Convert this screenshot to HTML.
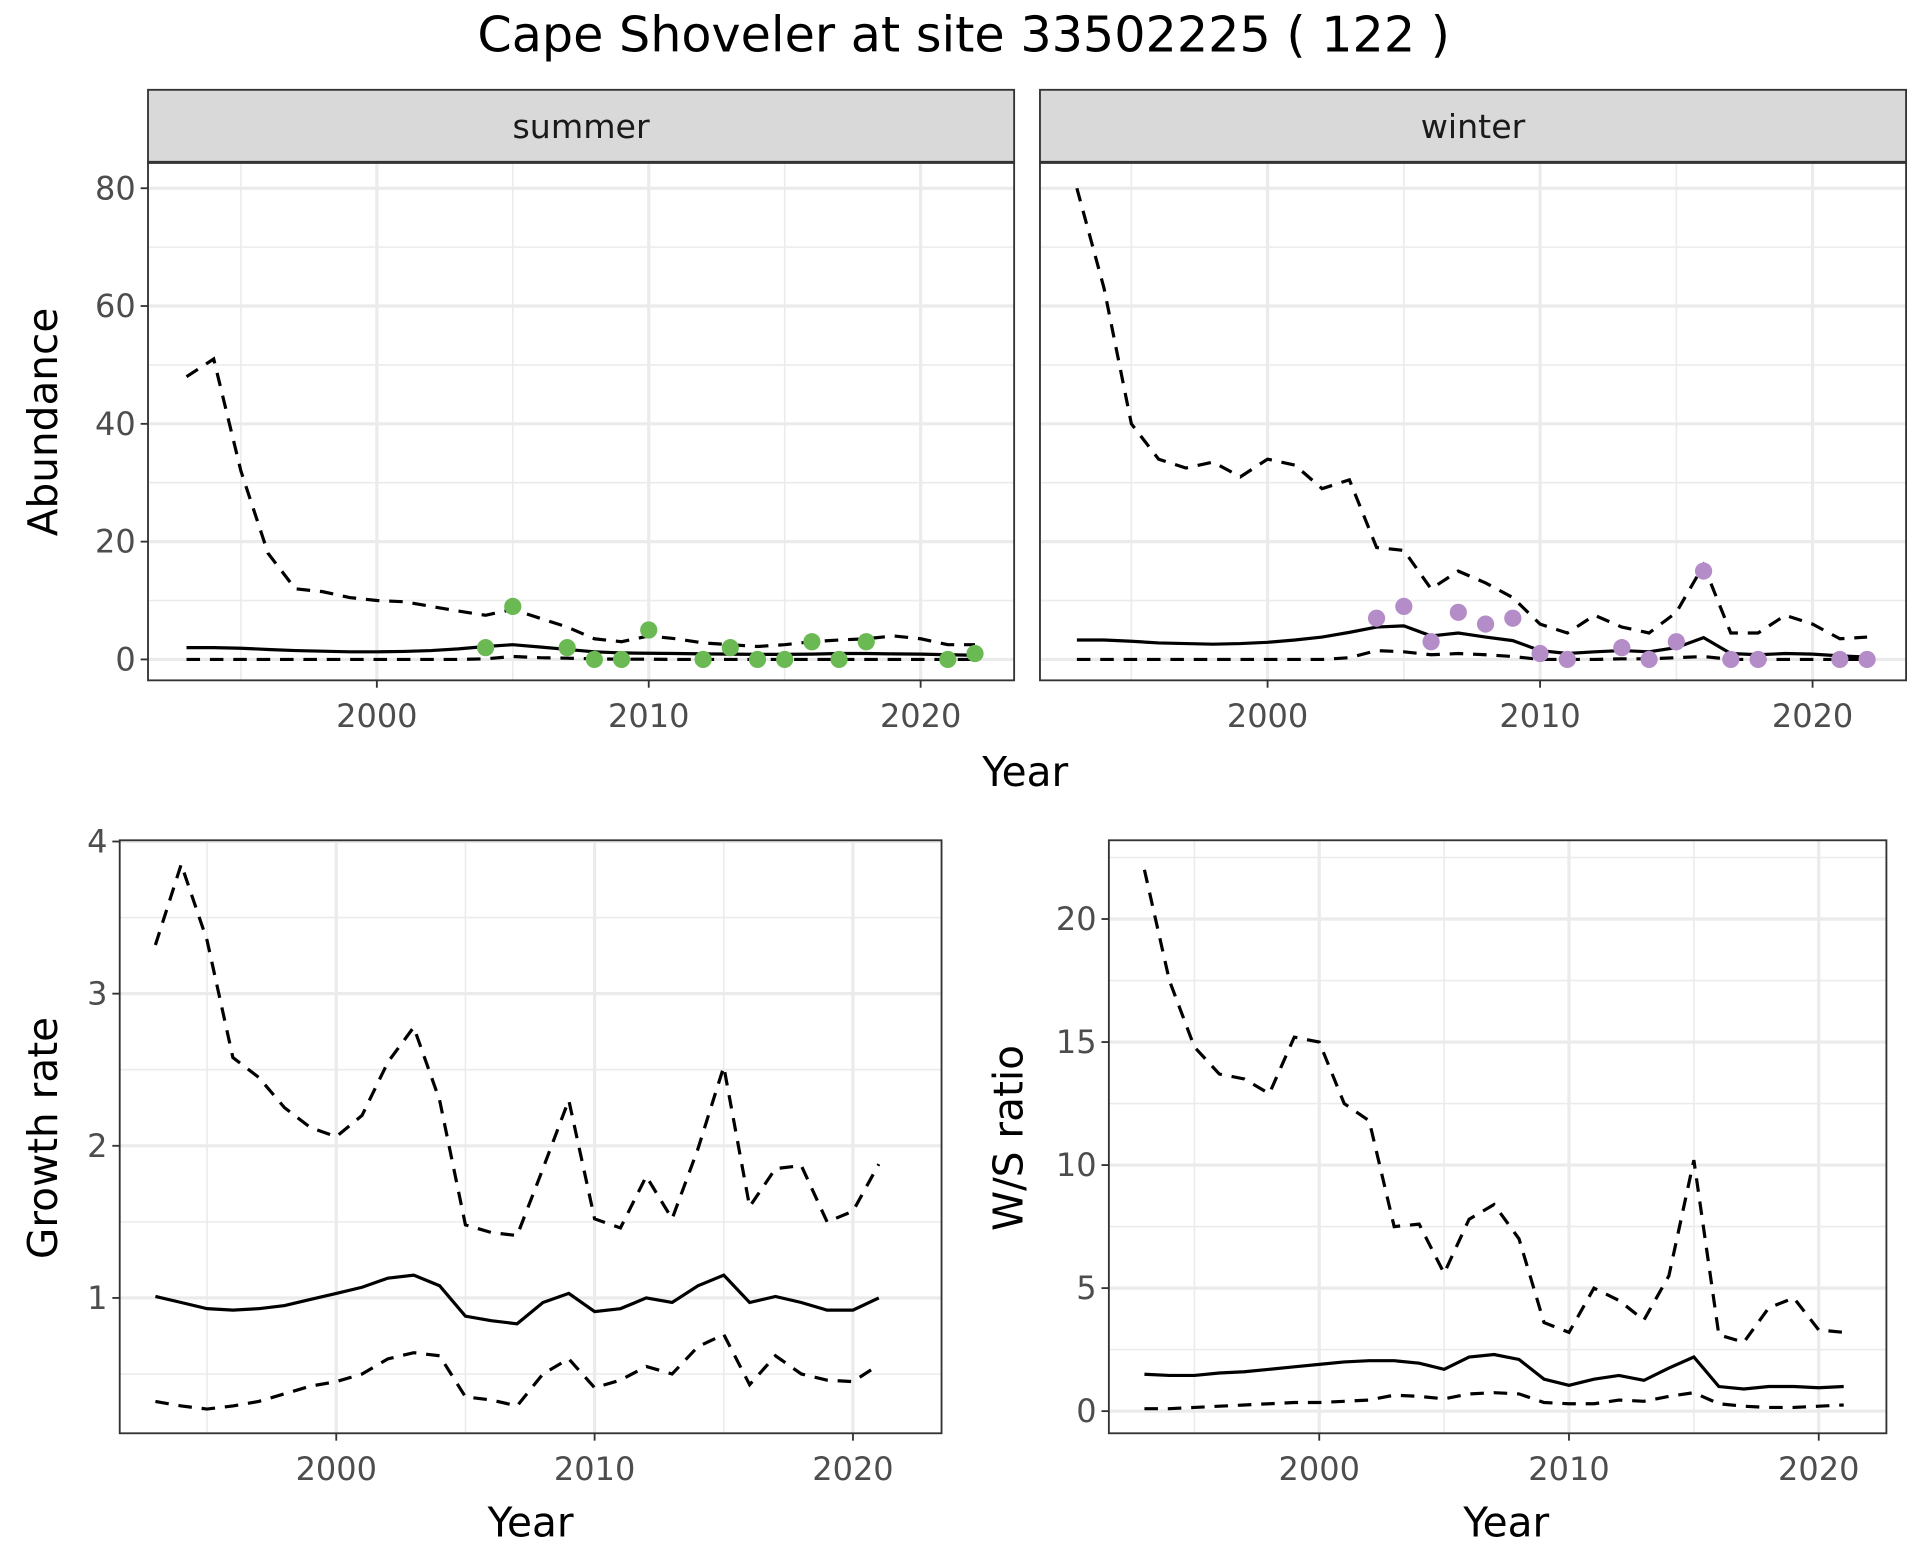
<!DOCTYPE html>
<html><head><meta charset="utf-8"><style>
html,body{margin:0;padding:0;background:#fff;}
svg{display:block;font-family:"DejaVu Sans","Liberation Sans",sans-serif;}
</style></head><body>
<svg id="chart" width="1920" height="1560" viewBox="0 0 1560 1268" xmlns="http://www.w3.org/2000/svg">
<rect width="1560" height="1268" fill="#fff"/>
<text x="783" y="42" font-size="40" text-anchor="middle" fill="#000">Cape Shoveler at site 33502225 ( 122 )</text>
<g id="g"></g>
</svg>
<script>
const years93_22 = [1993,1994,1995,1996,1997,1998,1999,2000,2001,2002,2003,2004,2005,2006,2007,2008,2009,2010,2011,2012,2013,2014,2015,2016,2017,2018,2019,2020,2021,2022];
const years93_21 = years93_22.slice(0,29);
const summerMean = [2,2,1.9,1.7,1.5,1.4,1.3,1.3,1.35,1.5,1.8,2.2,2.5,2.1,1.7,1.3,1.1,1.05,1,0.95,0.9,0.85,0.85,0.9,1,1,0.95,0.9,0.8,0.7];
const summerUpper = [48,51,32,18,12,11.5,10.5,10,9.8,9,8.2,7.5,8.5,7,5.5,3.5,3,4,3.5,2.8,2.5,2.2,2.5,3,3.3,3.5,4,3.5,2.5,2.5];
const summerLower = [0,0,0,0,0,0,0,0,0,0,0,0.1,0.5,0.3,0.2,0.1,0.05,0.05,0,0,0,0,0,0,0,0,0,0,0,0];
const summerObsYears = [2004,2005,2007,2008,2009,2010,2012,2013,2014,2015,2016,2017,2018,2021,2022];
const summerObs = [2,9,2,0,0,5,0,2,0,0,3,0,3,0,1];
const winterMean = [3.3,3.3,3.1,2.8,2.7,2.6,2.7,2.9,3.3,3.8,4.6,5.5,5.7,4,4.5,3.8,3.2,1.5,1,1.3,1.5,1.3,2,3.7,1,0.8,1,0.9,0.6,0.4];
const winterUpper = [80,63,40,34,32.5,33.5,31,34,33,29,30.5,19,18.5,12,15,13,10.5,6,4.5,7.5,5.5,4.5,8,16,4.5,4.5,7.5,6,3.5,3.8];
const winterLower = [0,0,0,0,0,0,0,0,0,0,0.3,1.5,1.3,0.8,1,0.8,0.5,0,0,0,0.1,0.1,0.3,0.5,0,0,0,0,0,0];
const winterObsYears = [2004,2005,2006,2007,2008,2009,2010,2011,2013,2014,2015,2016,2017,2018,2021,2022];
const winterObs = [7,9,3,8,6,7,1,0,2,0,3,15,0,0,0,0];
const growthMean = [1.01,0.97,0.93,0.92,0.93,0.95,0.99,1.03,1.07,1.13,1.15,1.08,0.88,0.85,0.83,0.97,1.03,0.91,0.93,1.0,0.97,1.08,1.15,0.97,1.01,0.97,0.92,0.92,1.0];
const growthUpper = [3.32,3.85,3.35,2.58,2.45,2.25,2.12,2.06,2.2,2.55,2.78,2.3,1.48,1.43,1.41,1.85,2.3,1.52,1.46,1.8,1.52,1.98,2.52,1.6,1.85,1.87,1.5,1.57,1.88];
const growthLower = [0.32,0.29,0.27,0.29,0.32,0.37,0.42,0.45,0.5,0.6,0.64,0.62,0.35,0.33,0.29,0.5,0.6,0.41,0.46,0.55,0.5,0.68,0.76,0.43,0.62,0.5,0.46,0.45,0.56];
const ratioMean = [1.5,1.45,1.45,1.55,1.6,1.7,1.8,1.9,2.0,2.05,2.05,1.95,1.7,2.2,2.3,2.1,1.3,1.05,1.3,1.45,1.25,1.75,2.2,1.0,0.9,1.0,1.0,0.95,1.0];
const ratioUpper = [22,17.5,14.8,13.7,13.5,12.9,15.2,15,12.5,11.8,7.5,7.6,5.6,7.8,8.4,7,3.6,3.2,5,4.5,3.7,5.5,10.2,3.1,2.8,4.2,4.6,3.3,3.2];
const ratioLower = [0.1,0.1,0.15,0.2,0.25,0.3,0.35,0.35,0.4,0.45,0.65,0.6,0.5,0.7,0.75,0.7,0.35,0.3,0.3,0.45,0.4,0.6,0.75,0.3,0.2,0.15,0.15,0.2,0.25];
const abundTicks = [0,20,40,60,80];
const growthTicks = [1,2,3,4];
const ratioTicks = [0,5,10,15,20];
const yearTicks = [2000,2010,2020];

const NS="http://www.w3.org/2000/svg";
const G=document.getElementById('g');
function mk(tag,attrs,parent){const e=document.createElementNS(NS,tag);for(const k in attrs)e.setAttribute(k,attrs[k]);(parent||G).appendChild(e);return e;}
function lin(d0,d1,r0,r1){return v=>r0+(v-d0)*(r1-r0)/(d1-d0);}

function panel(o){
  const g=mk('g',{});
  
  
  const x=lin(2000,2020,o.x2000,o.x2020), y=lin(o.v0,o.v1,o.y0,o.y1);
  mk('rect',{x:o.L,y:o.T,width:o.R-o.L,height:o.B-o.T,fill:'#fff'},g);
  o.minorY.forEach(v=>{const yy=y(v);if(yy>o.T&&yy<o.B)mk('line',{x1:o.L,x2:o.R,y1:yy,y2:yy,stroke:'#ebebeb','stroke-width':1.3},g);});
  [1995,2005,2015].forEach(v=>mk('line',{x1:x(v),x2:x(v),y1:o.T,y2:o.B,stroke:'#ebebeb','stroke-width':1.3},g));
  o.ticks.forEach(v=>mk('line',{x1:o.L,x2:o.R,y1:y(v),y2:y(v),stroke:'#ebebeb','stroke-width':2.6},g));
  yearTicks.forEach(v=>mk('line',{x1:x(v),x2:x(v),y1:o.T,y2:o.B,stroke:'#ebebeb','stroke-width':2.6},g));
  function path(xs,vs,dash,nm){const p=mk('path',{d:xs.map((yr,i)=>(i?'L':'M')+x(yr).toFixed(1)+','+y(vs[i]).toFixed(1)).join(''),fill:'none',stroke:'#000','stroke-width':2.6,'stroke-dasharray':dash?'11,8':'none'},g);}
  path(o.years,o.upper,true,o.name+'-upper-line');
  path(o.years,o.lower,true,o.name+'-lower-line');
  path(o.years,o.mean,false,o.name+'-mean-line');
  if(o.obs){o.obsYears.forEach((yr,i)=>{const c=mk('circle',{cx:x(yr),cy:y(o.obs[i]),r:7,fill:o.color},g);});}
  mk('rect',{x:o.L,y:o.T,width:o.R-o.L,height:o.B-o.T,fill:'none',stroke:'#333','stroke-width':1.5},g);
  if(o.showY){o.ticks.forEach(v=>{mk('line',{x1:o.L-6,x2:o.L,y1:y(v),y2:y(v),stroke:'#333','stroke-width':1.5},g);const t=mk('text',{x:o.L-10,y:y(v)+9,'font-size':26,'text-anchor':'end',fill:'#4d4d4d'},g);t.textContent=v;});}
  yearTicks.forEach(v=>{mk('line',{x1:x(v),x2:x(v),y1:o.B,y2:o.B+6,stroke:'#333','stroke-width':1.5},g);const t=mk('text',{x:x(v),y:o.B+38,'font-size':26,'text-anchor':'middle',fill:'#4d4d4d'},g);t.textContent=v;});
  if(o.strip){const s=mk('rect',{x:o.L,y:73,width:o.R-o.L,height:59,fill:'#d9d9d9',stroke:'#333','stroke-width':1.5},g);mk('line',{x1:o.L,x2:o.R,y1:132,y2:132,stroke:'#333','stroke-width':2.5},g);const t=mk('text',{x:(o.L+o.R)/2,y:112,'font-size':27,'text-anchor':'middle',fill:'#1a1a1a'},g);t.textContent=o.strip;}
}
const abBase={T:132,B:553,v0:0,v1:80,y0:536,y1:153,ticks:abundTicks,minorY:[10,30,50,70],years:years93_22};
panel(Object.assign({},abBase,{name:'summer-panel',L:120,R:824,x2000:306,x2020:748,mean:summerMean,upper:summerUpper,lower:summerLower,obs:summerObs,obsYears:summerObsYears,color:'#6ab953',showY:true,strip:'summer'}));
panel(Object.assign({},abBase,{name:'winter-panel',L:845,R:1549,x2000:1030,x2020:1473,mean:winterMean,upper:winterUpper,lower:winterLower,obs:winterObs,obsYears:winterObsYears,color:'#b48cc8',showY:false,strip:'winter'}));
panel({name:'growth-panel',L:97,R:765,T:683,B:1165,x2000:273,x2020:693,v0:1,v1:4,y0:1055,y1:684,ticks:growthTicks,minorY:[0.5,1.5,2.5,3.5],years:years93_21,mean:growthMean,upper:growthUpper,lower:growthLower,showY:true});
panel({name:'ratio-panel',L:901,R:1533,T:683,B:1165,x2000:1072,x2020:1478,v0:0,v1:20,y0:1147,y1:747,ticks:ratioTicks,minorY:[2.5,7.5,12.5,17.5,22.5],years:years93_21,mean:ratioMean,upper:ratioUpper,lower:ratioLower,showY:true});
function lab(txt,x,y,rot,nm){const t=mk('text',{x:x,y:y,'font-size':33,'text-anchor':'middle',fill:'#000',transform:rot?`rotate(-90 ${x} ${y})`:''});t.textContent=txt;}
lab('Year',833,639,false,'x-axis-title-top');
lab('Abundance',46,343,true,'y-axis-title-abundance');
lab('Year',431,1249,false,'x-axis-title-growth');
lab('Growth rate',46,925,true,'y-axis-title-growth');
lab('Year',1224,1249,false,'x-axis-title-ratio');
lab('W/S ratio',831,925,true,'y-axis-title-ratio');
</script>
</body></html>
